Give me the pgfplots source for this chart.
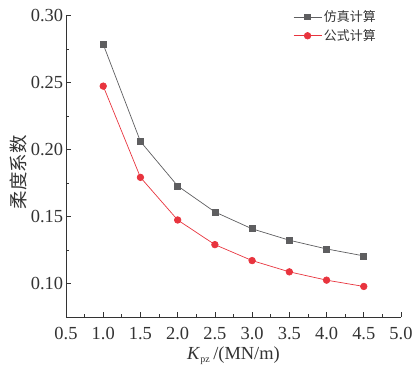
\documentclass[border=0pt]{standalone}
\usepackage{fontspec}
\setmainfont{Liberation Serif}
\newfontfamily\cjk{Noto Sans CJK SC}
\usepackage{pgfplots}
\pgfplotsset{compat=1.18}
\definecolor{sgray}{HTML}{5E5E60}
\definecolor{sred}{HTML}{E8343E}
\definecolor{txt}{HTML}{333333}
\begin{document}
\begin{tikzpicture}
\begin{axis}[
  scale only axis, width=335bp, height=301.5bp,
  xmin=0.5, xmax=5.0, ymin=0.075, ymax=0.30,
  axis lines=left, axis line style={-, txt, line width=0.8pt},
  xtick={0.5,1.0,...,5.0}, ytick={0.10,0.15,...,0.30},
  minor x tick num=1, minor y tick num=1,
  tick align=inside, major tick length=5pt, minor tick length=3pt,
  tick style={txt, line width=0.7pt},
  /pgf/number format/assume math mode=true,
  ticklabel style={font=\fontsize{18.5}{20}\selectfont, text=txt, inner sep=2bp},
  xticklabel style={yshift=-8.5bp, /pgf/number format/.cd, fixed, fixed zerofill, precision=1},
  yticklabel style={xshift=-0.7bp, /pgf/number format/.cd, fixed, fixed zerofill, precision=2},
  xlabel={\textit{K}\textsubscript{\fontsize{10}{11}\selectfont pz}\,/(MN/m)},
  ylabel={\cjk 柔度系数},
  xlabel style={font=\fontsize{18.5}{20}\selectfont, text=txt, at={(axis description cs:0.5,0)}, anchor=north, inner sep=0pt, yshift=-30bp},
  ylabel style={font=\fontsize{18.5}{20}\selectfont, text=txt, at={(axis description cs:-0.116,0.48)}, anchor=south, inner sep=0pt},
  legend style={at={(0.94,1.03)}, anchor=north east, draw=none, fill=none,
    font=\fontsize{13}{15}\selectfont\cjk, text=txt, row sep=2.5pt},
  legend cell align=left,
  legend image code/.code={\draw[mark repeat=2,mark phase=2,#1] plot coordinates {(0bp,0bp) (14bp,0bp) (28bp,0bp)};},
]
\coordinate (O) at (rel axis cs:0,0);
\addplot[sgray, line width=0.7pt, mark=square*, mark size=3pt, mark options={solid, fill=sgray}]
coordinates {(1.0,0.2785) (1.5,0.2060) (2.0,0.1728) (2.5,0.1534) (3.0,0.1408) (3.5,0.1323) (4.0,0.1258) (4.5,0.1206)};
\addlegendentry{仿真计算}
\addplot[sred, line width=0.7pt, mark=*, mark size=3.3pt, mark options={solid, fill=sred}]
coordinates {(1.0,0.2473) (1.5,0.1792) (2.0,0.1474) (2.5,0.1290) (3.0,0.1171) (3.5,0.1087) (4.0,0.1025) (4.5,0.0978)};
\addlegendentry{公式计算}
\end{axis}
\pgfresetboundingbox
\path[use as bounding box] ([shift={(-66bp,-48bp)}]O) rectangle ([shift={(351bp,317bp)}]O);
\end{tikzpicture}
\end{document}
